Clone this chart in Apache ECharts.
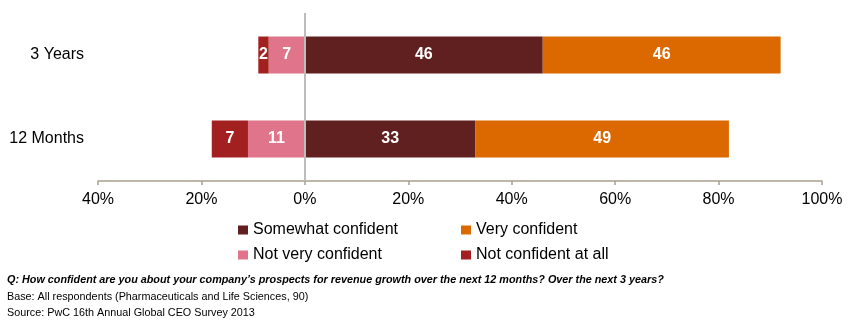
<!DOCTYPE html>
<html>
<head>
<meta charset="utf-8">
<script src="https://cdn.jsdelivr.net/npm/echarts@6/dist/echarts.min.js"></script>
<style>
  html, body { margin: 0; padding: 0; background: #fff; }
  #chart { width: 849px; height: 336px; }
</style>
</head>
<body>
<div id="chart"></div>
<script>
// Survey periods (top to bottom)
const categories = ['3 Years', '12 Months'];

// Share of respondents, in percent
const somewhatConfident = [46, 33];
const veryConfident = [46, 49];
const notVeryConfident = [7, 11];
const notConfidentAtAll = [2, 7];

// Value axis range and step
const axisMin = -40;
const axisMax = 100;
const axisStep = 20;

const FONT = '"Liberation Sans", Arial, Helvetica, sans-serif';

const colors = {
  somewhat: '#602020',
  very: '#DC6900',
  notVery: '#E0748A',
  notAtAll: '#A32020'
};

const barLabel = {
  show: true,
  position: 'inside',
  color: '#fff',
  fontFamily: FONT,
  fontWeight: 'bold',
  fontSize: 16,
  formatter: p => Math.abs(p.value)
};

function barSeries(name, values, color, sign) {
  return {
    name: name,
    type: 'bar',
    stack: 'total',
    barWidth: 37,
    data: values.map(v => sign * v),
    itemStyle: { color: color },
    label: barLabel,
    emphasis: { disabled: true }
  };
}

const series = [
  barSeries('Not very confident', notVeryConfident, colors.notVery, -1),
  barSeries('Not confident at all', notConfidentAtAll, colors.notAtAll, -1),
  barSeries('Somewhat confident', somewhatConfident, colors.somewhat, 1),
  barSeries('Very confident', veryConfident, colors.very, 1)
];

// Zero reference line drawn over the bars
series[0].markLine = {
  silent: true,
  symbol: 'none',
  animation: false,
  label: { show: false },
  lineStyle: { color: '#BDBDBD', width: 2, type: 'solid' },
  data: [{ xAxis: 0 }]
};

function legendAt(name, left, top) {
  return {
    data: [name],
    left: left,
    top: top,
    padding: 0,
    icon: 'rect',
    itemWidth: 10,
    itemHeight: 9,
    selectedMode: false,
    textStyle: { fontFamily: FONT, fontSize: 16, color: '#000', lineHeight: 18 }
  };
}

const chart = echarts.init(document.getElementById('chart'), null, { renderer: 'canvas' });

chart.setOption({
  animation: false,
  backgroundColor: '#fff',
  grid: { left: 98, right: 27, top: 13, bottom: 155, containLabel: false },
  xAxis: {
    type: 'value',
    min: axisMin,
    max: axisMax,
    interval: axisStep,
    axisLine: { show: true, lineStyle: { color: '#A8A08E', width: 1.5 } },
    axisTick: { show: true, length: 4, lineStyle: { color: '#A8A08E', width: 1.5 } },
    splitLine: { show: false },
    axisLabel: {
      margin: 11,
      color: '#000',
      fontFamily: FONT,
      fontSize: 16,
      formatter: v => Math.abs(v) + '%'
    }
  },
  yAxis: {
    type: 'category',
    data: categories,
    inverse: true,
    axisLine: { show: false },
    axisTick: { show: false },
    axisLabel: { margin: 14, color: '#000', fontFamily: FONT, fontSize: 16 }
  },
  legend: [
    legendAt('Somewhat confident', 238, 221),
    legendAt('Very confident', 461, 221),
    legendAt('Not very confident', 238, 246),
    legendAt('Not confident at all', 461, 246)
  ],
  graphic: [
    {
      type: 'text', left: 7, top: 275,
      style: {
        text: 'Q: How confident are you about your company\u2019s prospects for revenue growth over the next 12 months? Over the next 3 years?',
        font: 'italic bold 10.8px ' + FONT, fill: '#000'
      }
    },
    {
      type: 'text', left: 7, top: 292,
      style: {
        text: 'Base: All respondents (Pharmaceuticals and Life Sciences, 90)',
        font: '10.8px ' + FONT, fill: '#000'
      }
    },
    {
      type: 'text', left: 7, top: 308,
      style: {
        text: 'Source: PwC 16th Annual Global CEO Survey 2013',
        font: '10.8px ' + FONT, fill: '#000'
      }
    }
  ],
  series: series
});
</script>
</body>
</html>
